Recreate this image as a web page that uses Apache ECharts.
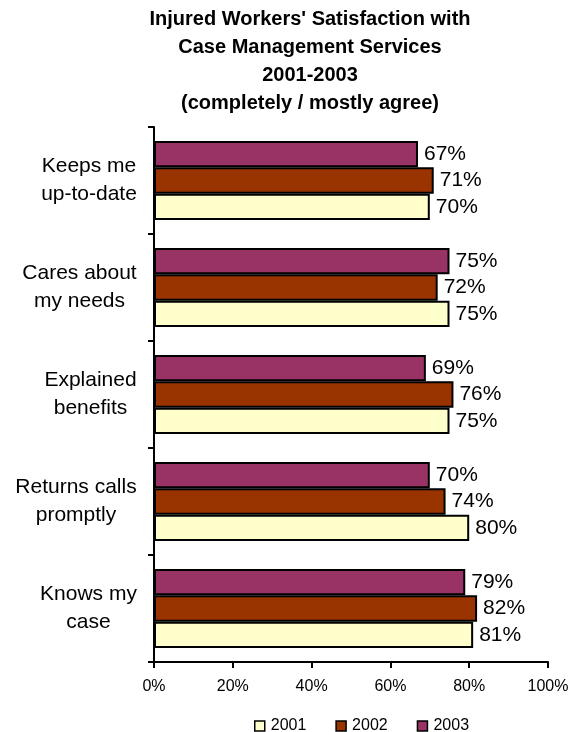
<!DOCTYPE html>
<html>
<head>
<meta charset="utf-8">
<script src="https://cdn.jsdelivr.net/npm/echarts@6/dist/echarts.min.js"></script>
<style>
  html, body { margin: 0; padding: 0; background: #fff; }
  #chart { width: 574px; height: 732px; }
</style>
</head>
<body>
<div id="chart"></div>
<script>
// Survey items, top to bottom
const categories = [
  'Keeps me\nup-to-date',
  'Cares about\nmy needs',
  'Explained\nbenefits',
  'Returns calls\npromptly',
  'Knows my\ncase'
];
const years = ['2001', '2002', '2003'];
// Percent who completely / mostly agree
const values2001 = [70, 75, 75, 80, 81];
const values2002 = [71, 72, 76, 74, 82];
const values2003 = [67, 75, 69, 70, 79];
const xTicks = [0, 20, 40, 60, 80, 100];
const titleLines = [
  "Injured Workers' Satisfaction with",
  'Case Management Services',
  '2001-2003',
  '(completely / mostly agree)'
];

const colors = { '2001': '#FFFFCC', '2002': '#993300', '2003': '#993366' };
const seriesValues = { '2001': values2001, '2002': values2002, '2003': values2003 };
const FONT = '"Liberation Sans", Arial, sans-serif';
const CAT_FONT_SIZE = 21;

// Each category label is a right-aligned block whose lines are centred
// inside it, so measure the widest line of every label.
const measureCtx = document.createElement('canvas').getContext('2d');
measureCtx.font = CAT_FONT_SIZE + 'px ' + FONT;
const catRich = {};
categories.forEach(function (c, i) {
  const w = Math.max.apply(null, c.split('\n').map(function (l) {
    return measureCtx.measureText(l).width;
  }));
  catRich['r' + i] = {
    width: Math.ceil(w),
    align: 'center',
    fontSize: CAT_FONT_SIZE,
    lineHeight: 28,
    color: '#000',
    fontFamily: FONT
  };
});

function makeSeries(year) {
  return {
    name: year,
    type: 'bar',
    data: seriesValues[year],
    barGap: '0%',
    barCategoryGap: '26%',
    itemStyle: { color: colors[year], borderColor: '#000', borderWidth: 2 },
    label: {
      show: true,
      position: 'right',
      distance: 6,
      formatter: '{c}%',
      color: '#000',
      fontSize: 21,
      fontFamily: FONT
    }
  };
}

const chart = echarts.init(document.getElementById('chart'));
chart.setOption({
  animation: false,
  backgroundColor: '#fff',
  textStyle: { fontFamily: FONT },
  graphic: [{
    type: 'text',
    x: 310,
    y: 5,
    style: {
      text: titleLines.join('\n'),
      align: 'center',
      verticalAlign: 'top',
      fontSize: 20,
      fontWeight: 'bold',
      lineHeight: 28,
      fill: '#000',
      fontFamily: FONT
    }
  }],
  legend: {
    data: years,
    left: 254,
    top: 718,
    padding: 0,
    itemWidth: 10,
    itemHeight: 10,
    itemGap: 29,
    icon: 'rect',
    itemStyle: { borderColor: '#000', borderWidth: 1.5 },
    textStyle: { fontSize: 16, color: '#000', fontFamily: FONT, padding: [0, 0, 0, 1] }
  },
  grid: { left: 154, right: 26, top: 127, bottom: 70, containLabel: false },
  xAxis: {
    type: 'value',
    min: xTicks[0],
    max: xTicks[xTicks.length - 1],
    interval: 20,
    axisLine: { show: true, lineStyle: { color: '#000', width: 2 } },
    axisTick: { show: true, length: 6, lineStyle: { color: '#000', width: 2 } },
    splitLine: { show: false },
    axisLabel: {
      formatter: '{value}%',
      color: '#000',
      fontSize: 16,
      margin: 17,
      fontFamily: FONT
    }
  },
  yAxis: {
    type: 'category',
    data: categories,
    inverse: true,
    axisLine: { show: true, lineStyle: { color: '#000', width: 2 } },
    axisTick: { show: true, length: 6, lineStyle: { color: '#000', width: 2 } },
    axisLabel: {
      color: '#000',
      fontSize: CAT_FONT_SIZE,
      lineHeight: 28,
      align: 'right',
      margin: 17,
      fontFamily: FONT,
      formatter: function (value, index) {
        return value.split('\n').map(function (l) {
          return '{r' + index + '|' + l + '}';
        }).join('\n');
      },
      rich: catRich
    }
  },
  // Drawn last-to-first so 2003 sits on top within each group
  series: years.slice().reverse().map(makeSeries)
});
</script>
</body>
</html>
